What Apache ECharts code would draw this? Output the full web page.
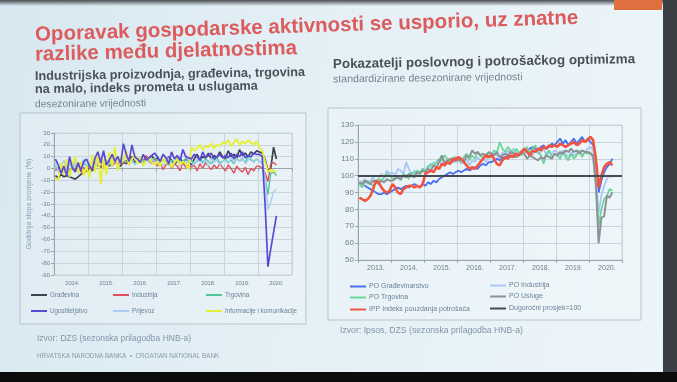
<!DOCTYPE html>
<html><head><meta charset="utf-8">
<script src="https://cdn.jsdelivr.net/npm/echarts@6/dist/echarts.min.js"></script>
<style>
html,body{margin:0;padding:0;}
#c{width:677px;height:382px;background:linear-gradient(100deg,#d8e8f0 0%,#e4f0f6 45%,#ecf5f9 100%);}
</style></head><body>
<div id="c"></div>
<script>
// ---------- DATA ----------
const LEFT_YEARS = ['2014','2015','2016','2017','2018','2019','2020'];
const RIGHT_YEARS = ['2013','2014','2015','2016','2017','2018','2019','2020'];
const LEFT_Y_TICKS = {min:-90, max:30, interval:10};
const RIGHT_Y_TICKS = {min:50, max:130, interval:10};
const LONG_RUN_AVG = 100;

// left chart: annual rate of change (%), monthly Jan 2014 - Jul 2020
const gradevina = [
 -6,-8,-5,-7,-6,-7,-8,-9,-7,-5,-3,-2,
 0,-2,2,4,1,3,6,2,5,8,3,2,
 6,4,8,10,5,7,9,6,10,8,11,7,
 9,6,8,5,10,7,4,6,9,5,8,6,
 3,8,12,7,10,9,13,8,11,9,14,10,
 8,15,10,12,9,16,11,13,10,14,12,15,
 14,13,8,-2,0,18,8];
const industrija = [
 -2,1,-4,0,3,-5,2,-1,4,-3,1,-2,
 3,-1,5,2,6,1,4,7,2,5,3,6,
 4,7,3,8,10,6,9,5,11,7,4,8,
 2,5,-1,3,6,0,4,2,-2,5,1,3,
 1,3,-2,4,0,5,2,-1,3,0,4,1,
 -2,3,0,-4,2,-1,-3,1,-5,0,-2,2,
 2,0,-4,-11,4,5,3];
const trgovina = [
 2,-1,3,0,4,-2,1,3,-1,2,5,1,
 3,6,2,5,8,4,7,3,6,9,5,7,
 8,5,9,6,4,7,10,6,8,5,7,9,
 6,4,8,5,3,7,5,9,4,6,8,5,
 7,4,6,9,5,8,6,4,7,9,5,6,
 8,5,7,4,9,6,8,5,10,7,6,8,
 6,5,-8,-22,-4,-3,-6];
const ugostiteljstvo = [
 8,3,-4,2,-6,10,0,-3,5,-2,6,8,
 2,-1,9,14,5,15,3,7,12,6,10,4,
 21,12,6,20,10,8,5,12,7,9,11,13,
 10,6,12,9,4,14,8,11,7,16,10,9,
 8,12,10,7,14,9,11,13,8,10,12,9,
 11,9,13,8,12,10,14,9,11,10,13,12,
 12,10,-30,-83,-68,-54,-40];
const prijevoz = [
 5,-3,2,7,-1,4,0,6,-4,3,8,2,
 5,0,9,3,7,12,4,8,2,10,6,4,
 7,10,5,8,3,6,9,4,7,5,8,6,
 4,7,2,6,9,3,5,8,1,6,4,7,
 5,3,8,6,4,7,2,9,5,7,3,6,
 7,4,9,5,8,6,10,4,7,9,5,8,
 6,4,-8,-35,-28,-20,-17];
const informacije = [
 -8,-10,5,-5,8,-7,3,10,-4,6,-6,2,
 -8,12,-3,15,-13,8,-5,14,2,18,-2,10,
 6,15,3,8,12,4,10,2,7,9,5,3,
 6,2,9,4,7,1,5,8,3,6,4,-1,
 18,15,17,20,16,19,18,21,17,20,19,22,
 21,24,19,22,25,20,23,21,24,22,20,23,
 18,15,6,-3,-1,-2,-3];

// right chart: standardised indicators, monthly Jan 2013 - Sep 2020
const poGradevinarstvo = [
 96,95,94,93,92,91,90,89,89,90,89,90,
 91,92,93,92,93,94,93,94,95,94,93,95,
 94,96,95,97,96,98,99,100,101,102,101,102,
 103,102,103,104,103,104,105,104,106,107,106,108,
 108,109,110,109,111,110,112,111,112,113,112,114,
 115,114,116,117,116,115,117,118,116,117,119,118,
 120,122,119,121,118,120,122,119,121,123,120,122,
 120,118,110,90,97,102,105,107,110];
const poIndustrija = [
 97,96,98,95,97,99,96,98,101,99,103,101,
 102,100,104,103,101,108,104,100,103,102,101,104,
 103,106,105,108,107,110,106,109,108,107,110,108,
 109,107,108,110,106,109,108,111,109,110,108,112,
 111,113,112,110,114,112,115,113,116,114,113,115,
 113,116,114,112,115,113,114,116,112,114,113,115,
 114,112,115,113,111,114,112,113,115,112,114,116,
 117,115,100,78,88,94,98,100,99];
const poTrgovina = [
 95,93,96,97,95,94,96,98,97,99,101,100,
 98,99,100,97,101,100,98,102,101,103,102,104,
 103,105,107,106,108,110,109,112,110,108,111,109,
 110,108,111,113,109,112,110,114,112,110,113,111,
 112,115,113,120,116,114,117,115,113,116,114,112,
 115,117,113,116,118,114,112,107,113,115,111,113,
 112,110,114,111,109,113,110,112,115,111,114,113,
 114,110,95,70,80,86,88,92,91];
const poUsluge = [
 96,95,97,96,95,97,96,95,97,96,98,97,
 97,98,99,98,100,99,101,100,99,102,101,103,
 102,104,103,106,105,108,112,107,109,110,108,111,
 109,110,108,112,111,115,113,114,112,113,111,114,
 113,112,114,111,112,113,112,114,113,111,112,114,
 113,110,112,111,110,109,111,110,112,111,110,113,
 112,114,113,115,114,116,114,115,113,115,114,114,
 113,112,95,60,75,76,88,87,90];
const ipp = [
 87,86,85,86,88,92,97,96,93,91,90,91,
 95,93,90,89,92,93,94,94,93,94,93,95,
 101,102,103,102,105,104,107,106,108,107,110,109,
 111,110,108,106,104,105,104,106,108,110,112,111,
 112,110,107,106,109,111,110,112,111,113,112,114,
 116,114,112,115,114,116,115,117,116,118,117,118,
 117,119,118,117,118,119,120,118,119,121,120,121,
 123,121,110,93,100,105,107,108,106];

// ---------- BUILD ----------
function months(years){const out=[];years.forEach(y=>{for(let m=1;m<=12;m++){out.push(y+'-'+(m<10?'0':'')+m);}});return out;}
const leftCats = months(LEFT_YEARS);
const rightCats = months(RIGHT_YEARS);

const FONT = '"Liberation Sans", Arial, sans-serif';
const LBL = '#6c7e8c';
const GRIDC = '#c9d4db';

const chart = echarts.init(document.getElementById('c'), null, {renderer:'canvas'});

function xAxisCfg(gridIndex, cats, fs){
  return {type:'category', gridIndex, data:cats, boundaryGap:true,
    axisLine:{show:true, lineStyle:{color:'#9aa6ae', width:1}},
    axisTick:{show:true, interval:(i)=>i%12===0, length:3, lineStyle:{color:'#9aa6ae'}},
    splitLine:{show:true, interval:(i)=>i%12===0, lineStyle:{color:GRIDC, width:1}},
    axisLabel:{interval:(i)=>i%12===6, formatter:(v)=>v.slice(0,4)+'.', color:LBL, fontSize:fs, fontFamily:FONT, margin:5}
  };
}
function yAxisCfg(gridIndex, t, fs, extra){
  return Object.assign({type:'value', gridIndex, min:t.min, max:t.max, interval:t.interval,
    axisLine:{show:true, lineStyle:{color:'#9aa6ae'}},
    axisTick:{show:true, length:3, lineStyle:{color:'#9aa6ae'}},
    splitLine:{show:true, lineStyle:{color:GRIDC, width:1}},
    axisLabel:{color:LBL, fontSize:fs, fontFamily:FONT, margin:4}
  }, extra||{});
}
function line(name, data, color, width, xi, yi, z){
  return {name, type:'line', data, xAxisIndex:xi, yAxisIndex:yi, showSymbol:false, symbol:'none',
    lineStyle:{color, width}, itemStyle:{color}, z:z||2, animation:false};
}
function leg(name, left, top, fs){
  return {data:[name], left, top, padding:0, itemWidth:16, itemHeight:2, icon:'rect', itemGap:0,
    textStyle:{color:'#6a8296', fontSize:fs, fontFamily:FONT, padding:[0,0,0,-2]}};
}
function txt(text, x, y, size, weight, color, rot){
  return {type:'text', x, y, rotation:rot||0, silent:true,
    style:{text, fontSize:size, fontWeight:weight, fontFamily:FONT, fill:color, verticalAlign:'middle', align:'left'}};
}

const option = {
  animation:false,
  backgroundColor:'transparent',
  grid:[
    {left:54, right:385, top:133, bottom:107, show:true, borderColor:GRIDC, borderWidth:1},
    {left:358, right:55, top:125, bottom:122, show:true, borderColor:GRIDC, borderWidth:1}
  ],
  xAxis:[xAxisCfg(0, leftCats, 5.8), xAxisCfg(1, rightCats, 7)],
  yAxis:[
    yAxisCfg(0, LEFT_Y_TICKS, 6, {name:'Godišnja stopa promjene (%)', nameLocation:'middle', nameRotate:90, nameGap:21,
      nameTextStyle:{color:'#7f9cb6', fontSize:7, fontFamily:FONT}}),
    yAxisCfg(1, RIGHT_Y_TICKS, 8)
  ],
  legend:[
    leg('Građevina', 31, 292, 6.3),
    leg('Industrija', 113, 292, 6.3),
    leg('Trgovina', 206, 292, 6.3),
    leg('Ugostiteljstvo', 31, 308, 6.3),
    leg('Prijevoz', 113, 308, 6.3),
    leg('Informacije i komunikacije', 206, 308, 6.3),
    leg('PO Građevinarstvo', 350, 283, 7),
    leg('PO Trgovina', 350, 294, 7),
    leg('IPP Indeks pouzdanja potrošača', 350, 306, 7),
    leg('PO Industrija', 490, 282, 7),
    leg('PO Usluge', 490, 293, 7),
    leg('Dugoročni prosjek=100', 490, 305, 7)
  ],
  series:[
    line('Građevina', gradevina, '#3e4150', 1.7, 0, 0, 3),
    line('Industrija', industrija, '#e0505a', 1.4, 0, 0, 3),
    line('Trgovina', trgovina, '#52c49c', 1.4, 0, 0, 3),
    line('Ugostiteljstvo', ugostiteljstvo, '#5a48d6', 1.7, 0, 0, 4),
    line('Prijevoz', prijevoz, '#a9cdf2', 1.4, 0, 0, 3),
    line('Informacije i komunikacije', informacije, '#e6ee3a', 1.9, 0, 0, 3),
    line('PO Građevinarstvo', poGradevinarstvo, '#4a6ff0', 1.8, 1, 1, 3),
    line('PO Industrija', poIndustrija, '#a8c8f4', 1.8, 1, 1, 3),
    line('PO Trgovina', poTrgovina, '#6fd69a', 1.8, 1, 1, 3),
    line('PO Usluge', poUsluge, '#8d9298', 2, 1, 1, 3),
    line('IPP Indeks pouzdanja potrošača', ipp, '#f2553f', 2.6, 1, 1, 4),
    {name:'Dugoročni prosjek=100', type:'line', xAxisIndex:1, yAxisIndex:1, data:[], showSymbol:false,
      itemStyle:{color:'#474b51'}, lineStyle:{color:'#474b51', width:2}, z:5,
      markLine:{silent:true, symbol:'none', label:{show:false}, animation:false,
        lineStyle:{color:'#474b51', width:2, type:'solid'}, data:[{yAxis:LONG_RUN_AVG}]}}
  ],
  graphic:[
    // slide edges
    {type:'rect', silent:true, z:-1, shape:{x:0,y:0,width:677,height:6},
      style:{fill:new echarts.graphic.LinearGradient(0,0,0,1,[{offset:0,color:'#4a4e52'},{offset:1,color:'rgba(74,78,82,0)'}])}},
    {type:'rect', silent:true, shape:{x:614,y:0,width:48,height:10}, style:{fill:'#df6f3e'}},
    {type:'rect', silent:true, shape:{x:663,y:0,width:14,height:382}, style:{fill:'#3c4044'}},
    {type:'rect', silent:true, shape:{x:0,y:372,width:677,height:10}, style:{fill:'#0c0c0c'}},
    // chart boxes
    {type:'rect', silent:true, z:-1, shape:{x:20,y:113,width:286,height:211}, style:{fill:'rgba(255,255,255,0.18)', stroke:'#b7c3cb', lineWidth:1}},
    {type:'rect', silent:true, z:-1, shape:{x:328,y:108,width:313,height:212}, style:{fill:'rgba(255,255,255,0.18)', stroke:'#b7c3cb', lineWidth:1}},
    // texts
    txt('Oporavak gospodarske aktivnosti se usporio, uz znatne', 35, 35, 20.5, 'bold', '#dc5c5e', 0.031),
    txt('razlike među djelatnostima', 35, 55, 20.5, 'bold', '#dc5c5e', 0.025),
    txt('Industrijska proizvodnja, građevina, trgovina', 35, 76.5, 12.7, 'bold', '#4b5159', 0.015),
    txt('na malo, indeks prometa u uslugama', 35, 89.5, 12.7, 'bold', '#4b5159', 0.015),
    txt('desezonirane vrijednosti', 35, 104.5, 10.3, 'normal', '#75848f', 0.01),
    txt('Pokazatelji poslovnog i potrošačkog optimizma', 333, 64.5, 13.4, 'bold', '#4b5159', 0.017),
    txt('standardizirane desezonirane vrijednosti', 333, 79.5, 10.6, 'normal', '#75848f', 0.012),
    txt('Izvor: DZS (sezonska prilagodba HNB-a)', 37, 339, 8.5, 'normal', '#8096a8', 0),
    txt('Izvor: Ipsos, DZS (sezonska prilagodba HNB-a)', 340, 331, 8.7, 'normal', '#8096a8', 0),
    txt('HRVATSKA NARODNA BANKA  •  CROATIAN NATIONAL BANK', 37, 356, 6.3, 'normal', '#8a9aa8', 0)
  ]
};
chart.setOption(option);
</script>
</body></html>
